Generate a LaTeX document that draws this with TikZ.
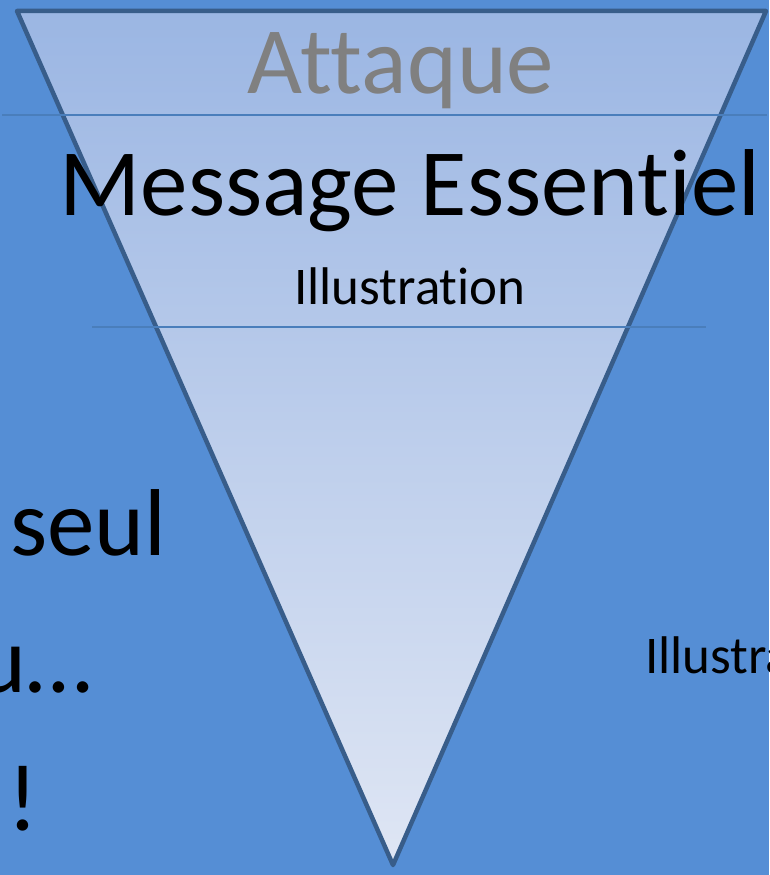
\documentclass[tikz,border=0pt]{standalone}
\usepackage{fontspec}
\setmainfont[RawFeature=-liga]{Carlito}
\usepackage{tikz}

\definecolor{slideblue}{RGB}{85,142,213}
\definecolor{edgeblue}{RGB}{56,93,138}
\definecolor{ruleblue}{RGB}{74,126,187}
\definecolor{funneltop}{RGB}{155,182,227}
\definecolor{funnelbot}{RGB}{223,230,244}

\begin{document}
\begin{tikzpicture}[
  x=1pt,y=-1pt,
  big/.style={inner sep=0pt,font=\fontsize{95}{114}\selectfont},
  small/.style={inner sep=0pt,font=\fontsize{53}{64}\selectfont},
  funnel/.style={draw=edgeblue,line width=4.5pt,line join=round,top color=funneltop,bottom color=funnelbot},
  rule/.style={draw=ruleblue,line width=2pt}
]
  \useasboundingbox (0,0) rectangle (769,875);
  \clip (0,0) rectangle (769,875);
  \fill[slideblue] (0,0) rectangle (769,875);

  % funnel
  \coordinate (tl) at (17,11);
  \coordinate (tr) at (766,11);
  \coordinate (tip) at (393,865);
  \path[funnel] (tl) -- (tr) -- (tip) -- cycle;

  % separators
  \coordinate (r1a) at (2,115);
  \coordinate (r1b) at (767,115);
  \coordinate (r2a) at (92,327);
  \coordinate (r2b) at (706,327);
  \draw[rule] (r1a) -- (r1b);
  \draw[rule] (r2a) -- (r2b);

  % texts in the funnel
  \node[big,anchor=base,text=gray] (attaque) at (401,93) {Attaque};
  \node[big,anchor=base] (message) at (410,215) {Message Essentiel};
  \node[small,anchor=base] (illus) at (410,304) {Illustration};

  % texts beside it
  \node[big,anchor=base west] (seul) at (10,555) {seul};
  \node[big,anchor=base west] (suite) at (-24,692) {u…};
  \node[big,anchor=base west] (excl) at (7,830) {!};
  \node[small,anchor=base west] (illusr) at (645,673) {Illustration};
\end{tikzpicture}
\end{document}
